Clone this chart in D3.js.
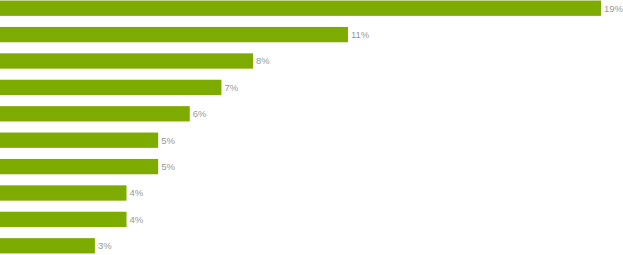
<!DOCTYPE html>
<html>
<head>
<meta charset="utf-8">
<script src="https://cdn.jsdelivr.net/npm/d3@7"></script>
<style>
  html, body { margin: 0; padding: 0; background: #fff; }
  svg { display: block; }
</style>
</head>
<body>
<div id="chart"></div>
<script>
// category ids (no labels shown in the picture), one per bar
var categories = ['c1', 'c2', 'c3', 'c4', 'c5', 'c6', 'c7', 'c8', 'c9', 'c10'];
var shares = [19, 11, 8, 7, 6, 5, 5, 4, 4, 3];
var valueLabels = ['19%', '11%', '8%', '7%', '6%', '5%', '5%', '4%', '4%', '3%'];

var width = 623, height = 255;

var svg = d3.select('#chart').append('svg')
    .attr('width', width)
    .attr('height', height);

var x = d3.scaleLinear()
    .domain([0, 19])
    .range([0, 601]);

var y = d3.scaleBand()
    .domain(categories)
    .range([-5, 259])
    .paddingInner(0.42)
    .paddingOuter(0.21);

var rows = svg.selectAll('.row')
    .data(categories)
    .enter().append('g')
        .attr('class', 'row');

rows.append('rect')
    .attr('x', x(0))
    .attr('y', function (d) { return y(d); })
    .attr('width', function (d, i) { return x(shares[i]) - x(0); })
    .attr('height', y.bandwidth())
    .attr('fill', '#7eab00');

rows.append('text')
    .attr('x', function (d, i) { return x(shares[i]) + 3; })
    .attr('y', function (d) { return y(d) + y.bandwidth() / 2; })
    .attr('dy', '0.36em')
    .attr('font-family', 'Arial, "Liberation Sans", sans-serif')
    .attr('font-size', '9.5px')
    .attr('fill', '#999')
    .text(function (d, i) { return valueLabels[i]; });
</script>
</body>
</html>
